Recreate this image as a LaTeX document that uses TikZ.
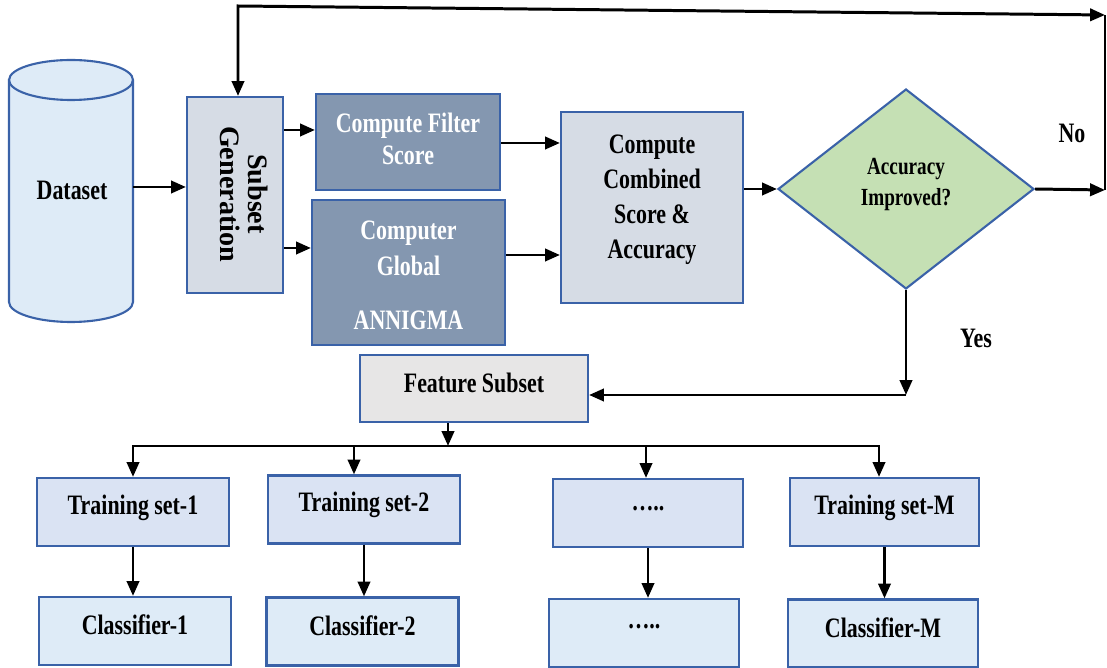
\documentclass[tikz,border=0pt]{standalone}
\usepackage{fontspec}
\setmainfont{Liberation Serif}[FakeStretch=0.78]
\newfontfamily\rotfont{Liberation Serif}
\usetikzlibrary{shapes.geometric,arrows.meta}
\definecolor{bord}{HTML}{3A62A8}
\definecolor{sgfill}{HTML}{D6DCE5}
\definecolor{fsfill}{HTML}{8497B0}
\definecolor{dfill}{HTML}{C5E0B4}
\definecolor{fsubfill}{HTML}{E7E6E6}
\definecolor{tfill}{HTML}{DAE3F3}
\definecolor{cfill}{HTML}{DEEBF7}
\definecolor{dsfill}{HTML}{DEEBF7}
\newcommand\up[2]{\raisebox{#1}[\height][\depth]{#2}}
\newcommand\ml[1]{\begin{tabular}{@{}c@{}}#1\end{tabular}}
\begin{document}
\begin{tikzpicture}[x=0.02cm,y=-0.02cm,
  box/.style={draw=bord, line width=1.2pt, rectangle, inner sep=0pt, font=\fontsize{16}{20}\selectfont\bfseries},
  tbox/.style={box, fill=tfill, minimum width=3.84cm, minimum height=1.36cm},
  cbox/.style={box, fill=cfill, minimum width=3.84cm, minimum height=1.36cm},
  tip/.tip={Triangle[length=8.5pt,width=7pt]},
  ln/.style={line width=1.7pt},
  arr/.style={ln, -tip},
  lab/.style={font=\fontsize{16}{20}\selectfont\bfseries, inner sep=0pt}]
\useasboundingbox (0,0) rectangle (1107,668);

% Dataset cylinder
\path[fill=dsfill, draw=bord, line width=1.2pt] (9,80) -- (9,302)
  arc[start angle=180, end angle=360, x radius=1.24cm, y radius=0.4cm] -- (133,80)
  arc[start angle=0, end angle=180, x radius=1.24cm, y radius=0.4cm] -- cycle;
\draw[bord, line width=1.2pt] (9,80) arc[start angle=180, end angle=360, x radius=1.24cm, y radius=0.4cm];
\node[lab] (ds) at (72,190) {Dataset};
\coordinate (dsE) at (133,187);

% upper boxes
\node[box, fill=sgfill, minimum width=1.92cm, minimum height=3.92cm] (sg) at (235,195) {};
\node[lab, rotate=-90, font=\rotfont\fontsize{16}{16}\selectfont\bfseries, align=center] (sgt) at (244,194) {Subset\\Generation};
\node[box, fill=fsfill, text=white, minimum width=3.68cm, minimum height=1.92cm, font=\fontsize{16}{18.7}\selectfont\bfseries] (fs) at (408,142) {\ml{Compute Filter\\Score}};
\node[box, fill=fsfill, text=white, minimum width=3.86cm, minimum height=2.9cm] (ga) at (408.5,272.5) {\up{-3pt}{\ml{Computer\\Global\\[11pt]ANNIGMA}}};
\node[box, fill=sgfill, minimum width=3.64cm, minimum height=3.82cm] (cc) at (652,207.5) {\up{5pt}{\ml{Compute\\Combined\\Score \&\\Accuracy}}};
\node[draw=bord, line width=1.2pt, diamond, fill=dfill, minimum width=5.12cm, minimum height=4cm, inner sep=0pt, font=\fontsize{14}{17.6}\selectfont\bfseries] (di) at (906,189) {\up{3pt}{\ml{Accuracy\\Improved?}}};
\node[box, fill=fsubfill, minimum width=4.56cm, minimum height=1.34cm] (fsub) at (474,388.5) {\up{3pt}{Feature Subset}};

% training / classifier boxes
\node[tbox] (t1) at (133,512) {\up{2.5pt}{Training set-1}};
\node[tbox] (t2) at (364,509.5) {\up{2.5pt}{Training set-2}};
\node[tbox, minimum width=3.8cm] (t3) at (648,513) {\up{2.5pt}{\dots..}};
\node[tbox, minimum width=3.78cm] (tm) at (884.5,512) {\up{2.5pt}{Training set-M}};
\node[cbox] (c1) at (135,631) {\up{3.4pt}{Classifier-1}};
\node[cbox] (c2) at (362.5,631.5) {\up{3.4pt}{Classifier-2}};
\node[cbox, minimum width=3.8cm] (c3) at (644,633) {\up{3.4pt}{\dots..}};
\node[cbox, minimum width=3.8cm] (cm) at (883,633.5) {\up{3.4pt}{Classifier-M}};

\node[lab] (yes) at (976,338) {Yes};
\node[lab] (no) at (1072,133) {No};

% connectors
\draw[arr] (dsE) -- (sg.west |- dsE);
\draw[arr] (sg.east |- 0,130) -- (fs.west |- 0,130);
\draw[arr] (sg.east |- 0,248) -- (ga.west |- 0,248);
\draw[arr] (fs.east |- 0,143) -- (cc.west |- 0,143);
\draw[arr] (ga.east |- 0,255) -- (cc.west |- 0,255);
\draw[arr] (cc.east |- di.west) -- (di.west);

\coordinate (nr) at (1105,190);
\coordinate (tr) at (1105,15);
\coordinate (tl) at (238,6);
\draw[arr] (di.east) -- (nr);
\draw[ln] (nr) -- (tr);
\draw[ln, tip-tip] (tr) -- (tl) -- (tl |- sg.north);

\coordinate (yc) at (906,395);
\draw[arr] (di.south) -- (yc);
\draw[arr] (yc) -- (fsub.east |- yc);

\coordinate (b0) at (448,446);
\coordinate (b1) at (133,446);
\coordinate (b2) at (354,446);
\coordinate (b3) at (646,446);
\coordinate (b4) at (879,446);
\draw[arr] (fsub.south -| b0) -- (b0);
\draw[ln, tip-tip] (b1 |- t1.north) -- (b1) -- (b4) -- (b4 |- tm.north);
\draw[arr] (b2) -- (b2 |- t2.north);
\draw[arr] (b3) -- (b3 |- t3.north);

\draw[arr] (t1.south) -- (t1.south |- c1.north);
\draw[arr] (t2.south) -- (t2.south |- c2.north);
\draw[arr] (t3.south) -- (t3.south |- c3.north);
\draw[arr] (tm.south) -- (tm.south |- cm.north);
\end{tikzpicture}
\end{document}
